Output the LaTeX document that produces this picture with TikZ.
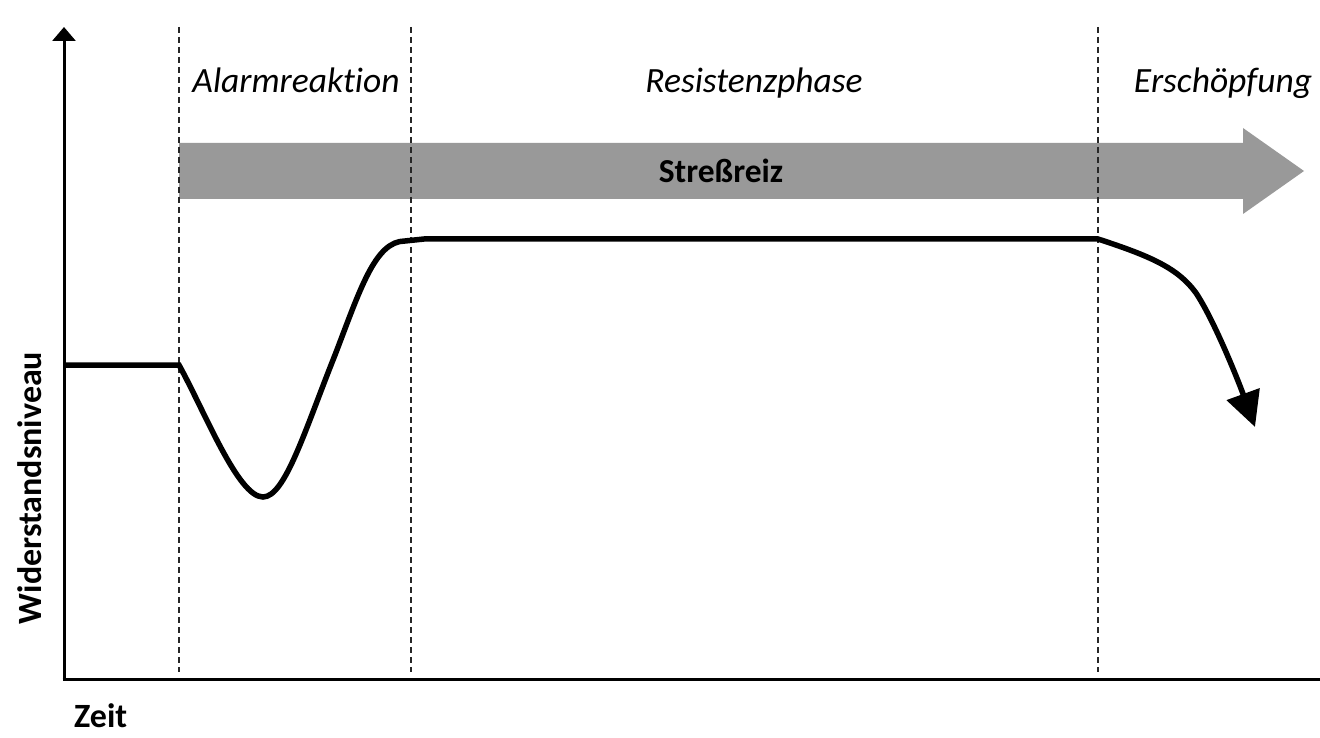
\documentclass[tikz,border=0pt]{standalone}
\usepackage{fontspec}
\setmainfont{Carlito}[Ligatures=NoCommon]
\usetikzlibrary{arrows.meta}
\definecolor{reizgray}{RGB}{153,153,153}
\begin{document}
\begin{tikzpicture}[x=1pt,y=-1pt,
  phaseline/.style={line width=1.2pt,dash pattern=on 6pt off 4pt,black!85},
  phaselabel/.style={anchor=base,inner sep=0pt,font=\fontsize{35.5}{42}\selectfont\itshape},
  axislabel/.style={inner sep=0pt,font=\fontsize{34}{40}\selectfont\bfseries}]
\useasboundingbox (0,0) rectangle (1320,738);

% axes
\coordinate (origin) at (64,679);
\coordinate (ytop) at (64,27);
\coordinate (xend) at (1320,679);
\draw[line width=3pt,-{Triangle[length=14pt,width=23pt]}] (origin) -- (ytop);
\draw[line width=3pt] ([xshift=-1.5pt]origin) -- (xend);

% stress stimulus
\fill[reizgray] (179,143) -- (1243,143) -- (1243,128) -- (1304,171)
  -- (1243,214) -- (1243,199) -- (179,199) -- cycle;
\node[axislabel,font=\fontsize{33.5}{40}\selectfont\bfseries] (reiz) at (721,171) {Streßreiz};

% phase borders
\draw[phaseline] (179,27) -- (179,672);
\draw[phaseline] (411,27) -- (411,672);
\draw[phaseline] (1098,27) -- (1098,672);

\node[phaselabel] (alarm) at (296,93) {Alarmreakt\kern0pt ion};
\node[phaselabel] (resist) at (754,93) {Resistenzphase};
\node[phaselabel] (ersch) at (1223,93) {Erschöpfung};

% resistance level
\draw[line width=5.5pt,-{Triangle[length=35pt,width=34pt]}]
  (64,365) -- (179,365)
  .. controls (205,412) and (238,497) .. (263,497)
  .. controls (285,497) and (305,430) .. (335,355)
  .. controls (360,290) and (375,241) .. (405,241)
  -- (424,239) -- (1098,239)
  .. controls (1150,256) and (1178,268) .. (1196,293)
  .. controls (1214,320) and (1238,380) .. (1255,427);

\node[axislabel,rotate=90] (yl) at (30,488) {Widerstandsniveau};
\node[axislabel,anchor=base west] (zeit) at (74,727) {Zeit};
\end{tikzpicture}
\end{document}
